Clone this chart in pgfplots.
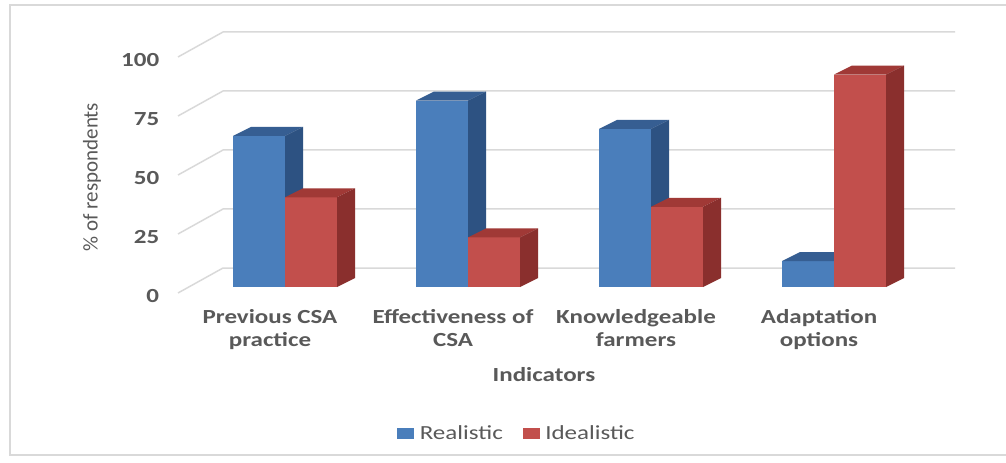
\documentclass[border=0pt]{standalone}
\usepackage{fontspec}
\setmainfont{Carlito}[FakeStretch=1.25]
\newfontfamily\ylabfont{Carlito}
\usepackage{pgfplots}
\usepackage{pgfplotstable}
\pgfplotsset{compat=1.18}
\usetikzlibrary{backgrounds}

\definecolor{blueF}{RGB}{74,126,187}
\definecolor{blueT}{RGB}{54,94,146}
\definecolor{blueS}{RGB}{45,82,130}
\definecolor{redF}{RGB}{194,79,76}
\definecolor{redT}{RGB}{160,57,54}
\definecolor{redS}{RGB}{138,47,45}
\definecolor{gridc}{RGB}{217,217,217}
\definecolor{txt}{RGB}{89,89,89}

\pgfplotstableread{
idx real ideal
0 64 38
1 79 21
2 67 34
3 11 90
}\datatable

% prism drawn at the data point (top of the bar's front face)
\newcommand{\drawprism}[4]{%
  \pgfmathsetmacro{\hh}{\barv*2.36}%
  \pgfmathsetmacro{\hd}{9-\hh}%
  \pgfmathsetmacro{\xl}{#1-26}%
  \pgfmathsetmacro{\xr}{#1+26}%
  \pgfmathsetmacro{\xld}{#1-26+18}%
  \pgfmathsetmacro{\xrd}{#1+26+18}%
  \pgfsetfillcolor{#2}%
  \pgfpathrectanglecorners{\pgfpoint{\xl pt}{0pt}}{\pgfpoint{\xr pt}{-\hh pt}}%
  \pgfusepath{fill}%
  \pgfsetfillcolor{#3}%
  \pgfpathmoveto{\pgfpoint{\xl pt}{0pt}}%
  \pgfpathlineto{\pgfpoint{\xld pt}{9pt}}%
  \pgfpathlineto{\pgfpoint{\xrd pt}{9pt}}%
  \pgfpathlineto{\pgfpoint{\xr pt}{0pt}}%
  \pgfpathclose\pgfusepath{fill}%
  \pgfsetfillcolor{#4}%
  \pgfpathmoveto{\pgfpoint{\xr pt}{0pt}}%
  \pgfpathlineto{\pgfpoint{\xrd pt}{9pt}}%
  \pgfpathlineto{\pgfpoint{\xrd pt}{\hd pt}}%
  \pgfpathlineto{\pgfpoint{\xr pt}{-\hh pt}}%
  \pgfpathclose\pgfusepath{fill}%
}
\pgfdeclareplotmark{prismB}{\drawprism{-26}{blueF}{blueT}{blueS}}
\pgfdeclareplotmark{prismR}{\drawprism{26}{redF}{redT}{redS}}

\begin{document}
\begin{tikzpicture}
\begin{axis}[
  x=183pt, y=2.36pt,
  xmin=-0.5847, xmax=3.6612, ymin=-2.6, ymax=108.051,
  enlargelimits=false, clip=false,
  axis line style={draw=none}, tick style={draw=none},
  major tick length=0pt,
  xtick={-0.082,0.918,1.918,2.918},
  xticklabels={{Previous CSA\\practice},{Effectiveness of\\CSA},{Knowledgeable\\farmers},{Adaptation\\options}},
  xticklabel style={align=center, anchor=north, yshift=-12.7pt,
    font=\fontsize{20}{23}\selectfont\bfseries, text=txt},
  ytick={-2.542,22.458,47.458,72.458,97.458},
  yticklabels={0,25,50,75,100},
  yticklabel style={xshift=-15.3pt, yshift=-3pt,
    font=\fontsize{20}{23}\selectfont\bfseries, text=txt},
  xlabel={Indicators},
  xlabel style={at={(axis description cs:0.471,-0.3137)}, anchor=center,
    font=\fontsize{20}{23}\selectfont\bfseries, text=txt},
  ylabel={\% of respondents},
  ylabel style={at={(axis description cs:-0.1107,0.4447)}, anchor=center, rotate=0,
    font=\ylabfont\fontsize{21}{24}\selectfont, text=txt},
  legend style={at={(axis description cs:0.4363,-0.5358)}, anchor=center,
    draw=none, fill=none, legend columns=-1,
    font=\fontsize{20}{23}\selectfont, text=txt,
    /tikz/every odd column/.append style={column sep=4pt},
    /tikz/every even column/.append style={column sep=18pt}},
  legend cell align=left,
]
% back wall gridlines with slanted left side
\draw[gridc, line width=1.5pt] (axis cs:-0.5847,-2.542) -- (axis cs:-0.3388,8.051) -- (axis cs:3.6612,8.051);
\draw[gridc, line width=1.5pt] (axis cs:-0.5847,22.458) -- (axis cs:-0.3388,33.051) -- (axis cs:3.6612,33.051);
\draw[gridc, line width=1.5pt] (axis cs:-0.5847,47.458) -- (axis cs:-0.3388,58.051) -- (axis cs:3.6612,58.051);
\draw[gridc, line width=1.5pt] (axis cs:-0.5847,72.458) -- (axis cs:-0.3388,83.051) -- (axis cs:3.6612,83.051);
\draw[gridc, line width=1.5pt] (axis cs:-0.5847,97.458) -- (axis cs:-0.3388,108.051) -- (axis cs:3.6612,108.051);
% chart border
\draw[gridc, line width=1.5pt] (axis cs:-1.5027,119.49) rectangle (axis cs:3.9727,-71.19);
\coordinate (TL) at (axis cs:-1.5574,121.61);
\coordinate (BR) at (axis cs:3.9399,-74.576);

\addplot[only marks, mark=prismB, scatter,
  scatter/@pre marker code/.code={\begin{scope}},
  scatter/@post marker code/.code={\end{scope}},
  visualization depends on={rawy \as \barv},
  legend image code/.code={\fill[blueF] (0pt,-5pt) rectangle (16pt,5pt);}]
  table[x=idx, y=real] {\datatable};
\addlegendentry{Realistic}
\addplot[only marks, mark=prismR, scatter,
  scatter/@pre marker code/.code={\begin{scope}},
  scatter/@post marker code/.code={\end{scope}},
  visualization depends on={rawy \as \barv},
  legend image code/.code={\fill[redF] (0pt,-5pt) rectangle (16pt,5pt);}]
  table[x=idx, y=ideal] {\datatable};
\addlegendentry{Idealistic}
\end{axis}
\begin{pgfonlayer}{background}
\fill[white] (TL) rectangle (BR);
\end{pgfonlayer}
\pgfresetboundingbox
\useasboundingbox (TL) rectangle (BR);
\end{tikzpicture}
\end{document}
